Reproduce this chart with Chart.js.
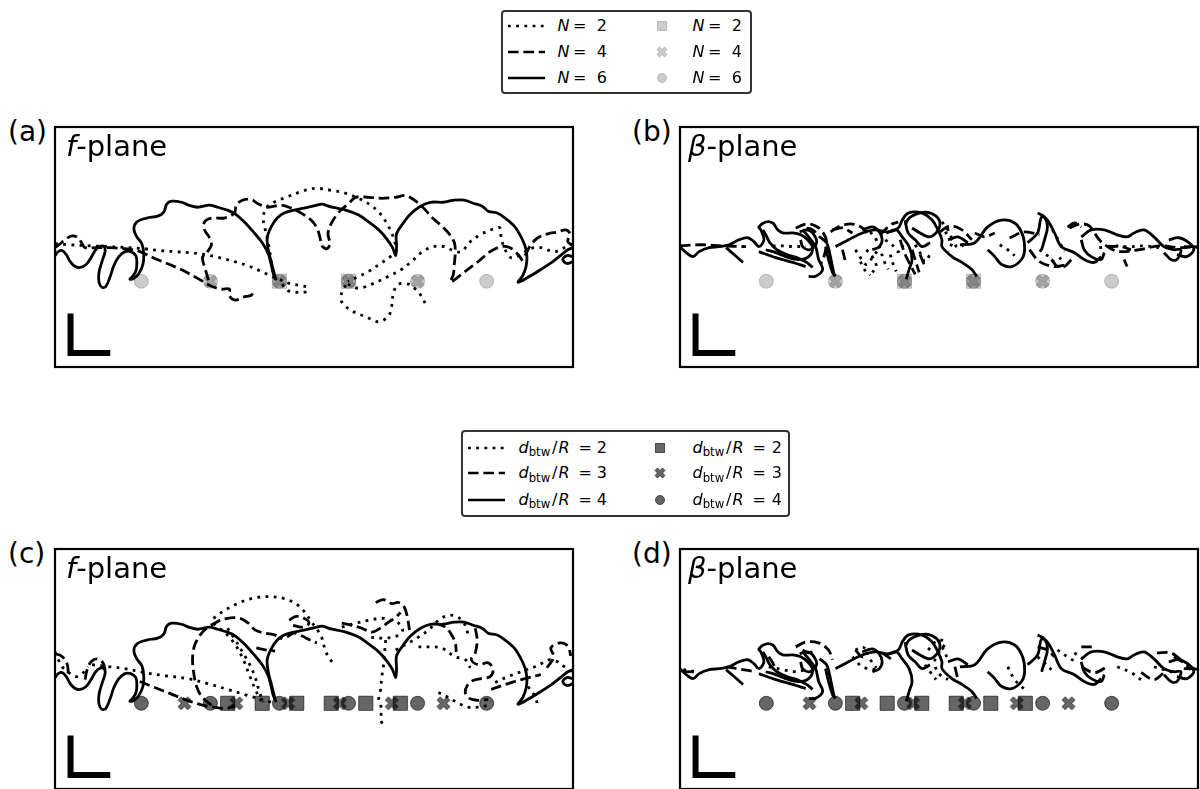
<!DOCTYPE html>
<html>
<head>
<meta charset="utf-8">
<script src="https://cdn.jsdelivr.net/npm/chart.js@4/dist/chart.umd.min.js"></script>
<style>
  html, body { margin: 0; padding: 0; background: #fff; }
  body { width: 1200px; height: 789px; overflow: hidden; position: relative;
         font-family: "DejaVu Sans", sans-serif; color: #000; }
  canvas { position: absolute; }
  .plabel { position: absolute; font-size: 28px; line-height: 28px; white-space: nowrap; }
  .ptitle { position: absolute; font-size: 29px; line-height: 29px; white-space: nowrap; }
  .box { position: absolute; border: 2px solid #333; border-radius: 4px; box-sizing: border-box; background: #fff; }
  .lt { position: absolute; font-size: 16px; line-height: 16px; white-space: nowrap; }
  .sub { font-size: 11.7px; position: relative; top: 3.5px; }
  svg.key { position: absolute; overflow: visible; }
</style>
</head>
<body>

<!-- legends -->
<div class="box" style="left:501px;top:10px;width:251px;height:84px;"></div>
<div class="box" style="left:461px;top:430px;width:329px;height:87px;"></div>

<!-- panel labels -->
<div class="plabel" style="left:8px;top:118px;">(a)</div>
<div class="plabel" style="left:632px;top:118px;">(b)</div>
<div class="plabel" style="left:8px;top:540px;">(c)</div>
<div class="plabel" style="left:632px;top:540px;">(d)</div>

<canvas id="panelA" width="540" height="262" style="left:44px;top:116px;"></canvas>
<canvas id="panelB" width="540" height="262" style="left:669px;top:116px;"></canvas>
<canvas id="panelC" width="540" height="262" style="left:44px;top:538px;"></canvas>
<canvas id="panelD" width="540" height="262" style="left:669px;top:538px;"></canvas>

<div class="ptitle" style="left:66px;top:132px;"><i>f</i>-plane</div>
<div class="ptitle" style="left:688px;top:132px;"><i>β</i>-plane</div>
<div class="ptitle" style="left:66px;top:554px;"><i>f</i>-plane</div>
<div class="ptitle" style="left:688px;top:554px;"><i>β</i>-plane</div>

<div id="legendTop"></div>
<div id="legendBottom"></div>

<script>
// ---------------------------------------------------------------------------
// Vortex tracks, in units of the vortex radius R (x along the row, y across).
// Each series is a list of track pieces; each piece is a list of [x, y].
// ---------------------------------------------------------------------------

// f-plane, N = 6 (inter-vortex distance 4R) – also the d_btw/R = 4 case
const fPlaneSolid = [
  [[-15.0,1.50],[-14.81,1.73],[-14.58,1.79],[-14.35,1.56],[-14.12,1.15],[-13.83,0.86],[-13.54,0.81],[-13.20,0.98],
   [-12.91,1.38],[-12.68,1.79],[-12.45,2.02],[-12.16,2.02],[-12.10,1.73],[-12.28,1.15],[-12.45,0.52],[-12.45,-0.06],
   [-12.28,-0.35],[-12.05,-0.29],[-11.82,0.23],[-11.59,0.92],[-11.30,1.44],[-10.95,1.73],[-10.61,1.73],[-10.32,1.50],
   [-10.26,1.04],[-10.32,0.58],[-10.55,0.23],[-10.66,0.12],[-10.43,0.17],[-10.14,0.46],[-9.91,0.98],[-9.86,1.61],
   [-9.97,2.19],[-10.26,2.59],[-10.43,3.05],[-10.26,3.46],[-9.68,3.69],[-9.05,3.80],[-8.70,4.03],[-8.53,4.50],
   [-8.24,4.67],[-7.67,4.61],[-7.26,4.44],[-6.74,4.32],[-6.05,4.44],[-5.59,4.32],[-5.01,4.15],[-4.55,3.92],
   [-4.03,3.46],[-3.46,2.82],[-3.00,2.25],[-2.65,1.61],[-2.48,0.98],[-2.36,0.46],[-2.19,0.06]],
  [[-2.25,0.23],[-2.48,1.15],[-2.65,1.84],[-2.71,2.54],[-2.48,3.17],[-2.13,3.69],[-1.73,3.98],[-1.15,4.15],
   [-0.58,4.27],[0.17,4.44],[0.46,4.50],[1.04,4.32],[1.84,4.15],[2.59,3.86],[3.17,3.46],[3.75,3.00],
   [4.21,2.48],[4.55,1.96],[4.73,1.50],[4.78,2.02],[4.78,2.77],[5.13,3.34],[5.59,3.92],[6.17,4.38],
   [6.74,4.61],[7.49,4.61],[8.13,4.73],[8.70,4.73],[9.22,4.55],[9.74,4.38],[10.09,4.09],[10.61,3.98],
   [11.07,3.69],[11.59,3.23],[11.93,2.71],[12.22,2.07],[12.33,1.44],[12.28,0.86],[12.10,0.35],[11.82,-0.06],
   [12.39,0.23],[13.14,0.69],[13.83,1.15],[14.41,1.61],[14.70,1.84],[15.0,1.96]],
  [[15.0,1.44],[14.64,1.50],[14.41,1.27],[14.64,1.04],[15.0,1.15]]
];

// f-plane, N = 4
const fPlaneN4 = [
  [[-15.0,1.96],[-14.70,2.19],[-14.35,2.48],[-14.01,2.65],[-13.66,2.54],[-13.43,2.19],[-13.26,1.96],[-12.68,1.96],
   [-11.82,1.96],[-10.95,1.90],[-10.09,1.73],[-9.22,1.33],[-8.36,0.98],[-7.49,0.58],[-6.74,0.17],[-5.94,-0.29],
   [-5.36,-0.46],[-4.90,-0.46],[-4.90,-0.86],[-4.55,-1.10],[-4.09,-0.92],[-3.63,-0.81],[-3.52,-0.58]],
  [[-6.11,0.06],[-6.34,0.86],[-6.46,1.38],[-6.17,1.73],[-5.94,2.13],[-6.05,2.54],[-6.34,3.00],[-6.34,3.46],
   [-5.94,3.69],[-5.19,3.69],[-4.61,3.98],[-4.50,4.44],[-4.15,4.73],[-3.63,4.78],[-3.29,4.55],[-2.71,4.32],
   [-1.90,4.44],[-1.33,4.27],[-0.75,3.98],[-0.17,3.57],[0.17,3.11],[0.35,2.54],[0.46,2.07],[0.75,1.90],
   [0.92,2.19],[0.81,2.77],[0.98,3.34],[1.44,4.03],[2.02,4.55],[2.42,4.90],[3.17,4.90],[3.92,4.84],
   [4.73,4.90],[5.30,5.01],[5.65,4.84],[6.05,4.55],[6.46,4.15],[6.80,3.75],[7.20,3.40],[7.78,2.82],
   [8.13,2.25],[8.18,1.67],[8.13,1.04],[8.07,0.40],[7.90,-0.06],[8.76,0.58],[9.51,1.15],[10.20,1.73],
   [10.84,2.02],[11.35,1.96],[11.82,1.56],[12.10,1.15]],
  [[12.22,1.50],[12.56,2.13],[12.97,2.54],[13.54,2.77],[14.12,2.88],[14.58,3.00],[14.81,2.77],[14.70,2.31],[15.0,2.07]]
];

// f-plane, N = 2
const fPlaneN2 = [
  [[-15.0,2.19],[-14.12,2.13],[-12.97,2.07],[-11.82,2.02],[-10.66,1.96],[-9.80,1.90],[-8.93,1.79],[-8.07,1.73],
   [-7.20,1.67],[-6.34,1.56],[-5.48,1.38],[-4.61,1.15],[-3.86,0.92],[-3.17,0.63],[-2.59,0.35],[-2.02,0.12],
   [-1.44,-0.12],[-0.86,-0.23],[-0.29,-0.35]],
  [[-1.84,-0.17],[-1.56,-0.52],[-1.10,-0.63],[-0.52,-0.63],[-0.23,-0.52]],
  [[-2.25,0.12],[-2.42,0.81],[-2.54,1.56],[-2.65,2.25],[-2.82,3.00],[-2.94,3.69],[-2.77,4.27],[-2.31,4.61],
   [-1.61,4.90],[-0.86,5.19],[0.06,5.42],[1.04,5.30],[1.84,5.13],[2.59,4.84],[3.29,4.44],[3.80,3.98],
   [4.21,3.40],[4.50,2.82],[4.67,2.31],[4.78,1.84],[4.50,1.50],[3.86,1.04],[3.17,0.58],[2.48,0.23],[1.96,0.00]],
  [[1.96,-0.17],[2.59,-0.40],[3.46,-0.12],[4.32,0.29],[5.07,0.69],[5.71,1.21],[6.28,1.73],[6.92,2.02],
   [7.55,2.02],[8.07,1.79],[8.53,1.73],[9.05,2.31],[9.63,2.71],[10.37,3.05],[10.78,3.11],[10.84,2.54],
   [11.07,1.84],[11.41,1.38],[11.99,1.56],[12.51,1.90],[13.14,1.96],[13.95,1.73],[14.70,2.07],[15.0,2.19]],
  [[1.84,-0.23],[1.61,-0.63],[1.61,-1.21],[2.19,-1.73],[3.00,-2.07],[3.75,-2.36],[4.32,-2.02],[4.50,-1.44],
   [4.61,-0.63],[4.90,-0.17],[5.48,-0.17],[5.88,-0.46],[6.22,-0.86],[6.51,-1.44]]
];

// f-plane, N = 6, d_btw/R = 3
const fPlaneD3 = [
  [[-15.0,2.88],[-14.64,2.77],[-14.35,2.42],[-14.24,1.96],[-14.29,1.50]],
  [[-13.26,1.38],[-13.14,1.96],[-12.91,2.42],[-12.56,2.59],[-12.22,2.36],[-12.10,1.96]],
  [[-10.09,1.27],[-9.22,0.92],[-8.36,0.58],[-7.49,0.23],[-6.63,-0.06],[-5.76,-0.23],[-5.01,-0.29],[-4.61,-0.12]],
  [[-5.94,-0.12],[-6.51,0.40],[-6.80,0.98],[-6.97,1.79],[-7.03,2.71],[-6.86,3.52],[-6.34,4.27],[-5.65,4.73],
   [-5.01,4.96],[-4.32,4.96],[-3.80,4.67],[-3.40,4.27],[-2.82,4.09],[-2.25,3.98],[-1.84,3.75]],
  [[-3.34,3.23],[-2.82,3.11],[-2.25,3.05]],
  [[-1.56,3.86],[-1.15,4.09],[-0.69,3.92],[-0.23,3.69],[0.17,3.52]],
  [[-1.44,4.84],[-1.04,5.07],[-0.58,4.96],[-0.29,4.67],[-0.69,4.44],[-1.21,4.55]],
  [[1.61,4.67],[2.19,4.55],[2.77,4.38],[3.34,4.15],[3.92,4.44],[4.32,4.73],[4.73,5.01],[5.01,5.30]],
  [[3.57,5.88],[4.03,6.05],[4.50,5.82],[4.90,5.88],[5.24,5.59],[5.42,4.96],[5.53,4.27]],
  [[7.03,4.67],[7.61,4.44],[7.95,4.03],[8.18,3.52],[8.24,3.00]],
  [[9.34,4.38],[9.45,3.69],[9.34,2.94],[9.11,2.54],[9.51,2.25],[10.09,2.36],[10.37,1.96],[10.20,1.56],
   [9.68,1.44],[9.22,1.33],[8.88,1.04],[8.76,0.63],[8.99,0.29],[9.51,0.17],[10.09,0.23]],
  [[10.26,0.81],[11.24,1.15],[12.22,1.44],[13.14,1.67]],
  [[13.49,2.07],[13.89,2.71],[13.72,3.23],[14.24,3.52],[14.70,3.34],[14.87,2.77]]
];

// f-plane, N = 6, d_btw/R = 2
const fPlaneD2 = [
  [[-15.0,3.00],[-14.81,2.54],[-14.53,2.07],[-14.12,1.73],[-13.72,1.56],[-13.31,1.84],[-13.08,2.13]],
  [[-12.85,2.25],[-11.82,2.13],[-10.95,2.02],[-9.80,1.79],[-8.65,1.61],[-7.32,1.44],[-6.17,1.15],[-5.01,0.81],
   [-3.86,0.46],[-3.05,0.23],[-2.48,0.06]],
  [[-3.05,0.12],[-3.40,0.81],[-3.75,1.67],[-4.09,2.54],[-4.55,3.40],[-5.13,4.09],[-5.71,4.55],[-5.88,4.84],
   [-5.36,5.30],[-4.55,5.76],[-3.63,6.11],[-2.71,6.22],[-1.73,6.11],[-0.98,5.76],[-0.52,5.30],[-0.17,4.78],
   [0.17,4.32],[0.46,3.80],[0.63,3.17],[0.86,2.65],[1.10,2.36]],
  [[-5.01,4.38],[-4.55,3.69],[-4.15,3.00],[-3.75,2.31],[-3.40,1.50],[-3.17,0.69],[-2.94,0.06]],
  [[1.61,4.44],[2.42,4.67],[3.17,4.84],[3.92,4.96],[4.50,4.84],[4.90,4.67],[5.13,4.27],[4.78,3.92],[3.98,3.80],[3.17,3.86]],
  [[4.15,3.69],[4.09,2.98],[4.03,2.25],[3.92,1.50],[3.86,0.81],[3.75,0.23],[3.92,-0.35],[3.86,-0.92],[4.03,-1.33]],
  [[4.73,3.11],[5.48,3.52],[6.05,3.86],[6.63,4.27],[7.20,4.84],[7.78,5.13],[8.36,5.01],[8.76,4.55],[8.93,3.98]],
  [[6.05,3.29],[6.80,3.29],[7.38,3.23],[8.18,2.71],[8.76,2.54],[9.05,2.07]],
  [[7.20,0.63],[7.78,0.35],[8.36,0.00],[8.93,-0.23],[9.51,-0.23],[10.09,-0.12]],
  [[10.49,1.21],[11.24,1.56],[11.99,1.84],[12.80,2.13],[13.26,2.36],[13.66,2.54],[14.12,2.42],[14.58,2.07],[15.0,1.84]],
  [[12.39,0.98],[12.80,0.40],[12.97,-0.17]]
];

// beta-plane, N = 6 (inter-vortex distance 4R) – also the d_btw/R = 4 case
const betaPlaneSolid = [
  [[-15.0,2.02],[-14.64,1.67],[-14.24,1.44],[-13.89,1.73],[-13.31,1.96],[-12.74,2.02],[-12.16,2.13],[-11.59,2.42],
   [-11.07,2.54],[-10.72,2.31],[-10.43,2.02],[-10.14,2.42],[-10.32,3.00],[-10.43,3.17],[-10.03,3.46],[-9.63,3.40],
   [-9.34,3.00],[-9.05,2.82],[-8.47,2.82],[-8.01,2.71],[-7.61,2.42],[-7.32,1.96],[-7.55,1.44],[-8.13,1.27],
   [-8.88,1.44],[-9.45,1.67],[-10.03,1.84]],
  [[-12.33,1.96],[-11.87,1.56],[-11.35,1.10]],
  [[-10.43,1.73],[-9.45,1.38],[-8.47,1.10],[-7.72,0.86]],
  [[-10.20,3.00],[-9.97,2.59],[-9.80,2.25],[-9.39,1.84],[-8.82,1.56],[-8.24,1.38],[-7.67,1.10],[-7.32,0.81]],
  [[-8.07,2.88],[-7.67,3.00],[-7.32,2.82],[-7.09,2.25],[-7.49,1.84],[-7.90,2.02],[-8.01,2.42]],
  [[-7.90,3.00],[-7.55,2.59],[-7.15,2.02],[-6.97,1.27],[-6.74,0.69],[-7.15,0.29],[-7.55,0.29]],
  [[-6.92,2.59],[-6.51,2.25],[-6.34,1.67],[-6.17,0.86],[-6.05,0.29]],
  [[-6.57,2.02],[-6.40,1.27],[-6.17,0.52],[-5.99,0.29]],
  [[-5.99,2.02],[-5.24,2.42],[-4.44,2.82],[-3.69,3.00],[-2.94,2.88],[-2.36,3.11],[-2.13,3.57],[-1.79,3.98],
   [-0.98,3.98],[-0.40,3.57],[-0.06,3.00],[0.17,2.42],[0.17,2.02],[0.75,1.44],[1.33,1.10],[1.90,0.69],[2.19,0.29]],
  [[-4.44,3.00],[-3.86,3.17],[-3.46,2.88],[-3.29,2.42],[-3.46,2.02],[-3.86,1.84]],
  [[-3.05,2.82],[-2.48,3.00],[-2.13,2.59],[-1.73,2.02],[-1.56,1.27],[-1.73,0.69],[-1.90,0.12]],
  [[-1.96,3.29],[-1.73,3.69],[-1.33,3.92],[-0.75,4.03],[-0.17,3.80],[0.06,3.34],[-0.17,2.82],[-0.58,2.59],[-1.10,2.82],[-1.56,3.11]],
  [[-1.96,3.57],[-1.79,2.82],[-1.38,2.42],[-0.98,2.02],[-0.52,2.25]],
  [[0.52,2.42],[1.10,2.59],[1.67,2.25]],
  [[1.21,2.13],[2.07,2.25],[2.82,3.17],[3.63,3.57],[4.38,3.40],[4.84,2.71],[4.96,1.84],[4.78,1.27],
   [4.21,0.86],[3.63,0.98],[3.23,1.44],[2.82,1.84]],
  [[5.13,2.25],[5.71,2.82],[5.94,3.75],[6.28,3.57],[6.69,2.82],[7.09,2.02],[7.84,1.67],[8.41,1.27],[8.99,1.10],[9.39,1.44]],
  [[5.71,3.98],[6.11,3.75],[6.28,3.17],[6.11,2.42],[5.94,1.84]],
  [[8.24,2.42],[8.41,1.84],[8.82,1.44],[9.39,1.27],[9.57,1.67]],
  [[8.24,2.59],[8.82,3.00],[9.57,3.00],[10.32,2.71],[10.89,2.59],[11.30,2.82],[11.87,3.00],[12.45,2.59],
   [13.03,2.02],[13.60,1.84],[14.01,1.84],[13.78,1.27],[13.43,1.27],[13.03,1.67]],
  [[13.31,2.42],[13.89,2.54],[14.47,2.25],[14.76,1.84],[14.35,1.44],[13.78,1.56]],
  [[14.18,2.02],[14.76,2.02],[15.0,1.96]]
];

// beta-plane, N = 4
const betaPlaneN4 = [
  [[-15.0,2.07],[-13.78,2.13],[-12.62,2.07],[-11.18,2.02]],
  [[-8.30,3.11],[-7.72,3.34],[-7.15,3.23],[-6.74,2.88],[-6.51,2.31],[-6.63,1.56],[-6.86,0.98]],
  [[-7.67,3.11],[-7.32,3.00],[-6.92,2.59]],
  [[-6.28,2.88],[-5.71,3.23],[-5.01,3.34],[-4.44,3.11],[-4.09,2.71]],
  [[-6.17,3.00],[-5.59,3.11],[-5.01,2.82]],
  [[-5.59,1.84],[-5.42,1.15]],
  [[-3.40,2.71],[-2.82,3.29],[-2.36,3.46]],
  [[-2.25,2.42],[-1.96,1.56],[-1.67,0.98],[-1.38,0.40]],
  [[-1.56,1.84],[-1.33,1.10],[-1.15,0.52]],
  [[-1.10,1.56],[-0.86,0.98]],
  [[0.06,2.88],[0.63,3.23],[1.33,3.00],[1.90,2.42]],
  [[2.07,2.82],[2.65,2.59],[3.23,2.82]],
  [[4.09,2.54],[4.96,2.88],[5.82,2.71]],
  [[7.44,3.17],[7.84,3.40],[8.24,3.17]],
  [[7.55,3.11],[8.13,3.34],[8.70,3.23],[9.28,2.42],[9.86,1.96],[10.43,1.73],[11.59,1.84],[12.74,2.07],[13.89,1.96],[15.0,2.02]],
  [[5.24,1.84],[5.82,1.15],[6.69,0.86],[7.44,0.98]],
  [[6.51,1.27],[6.86,0.86],[7.26,0.86],[7.67,1.27]],
  [[9.74,2.02],[10.55,2.02],[11.12,1.84]],
  [[10.72,1.27],[10.89,0.86]]
];

// beta-plane, N = 2
const betaPlaneN2 = [
  [[-9.63,2.07],[-9.05,2.07],[-8.30,2.02],[-7.72,2.07]],
  [[-4.84,1.84],[-4.55,1.38],[-4.21,0.98],[-3.86,1.38],[-3.52,1.84]],
  [[-4.21,1.84],[-3.86,1.44],[-3.63,0.86],[-3.86,0.52]],
  [[-4.55,1.15],[-4.32,0.69],[-3.98,0.35]],
  [[-3.11,2.42],[-2.71,2.13],[-2.36,1.73],[-2.07,2.13]],
  [[-2.82,1.56],[-2.65,0.98],[-2.48,0.58]],
  [[-3.98,2.88],[-3.63,2.42],[-3.40,1.84],[-3.17,1.15],[-2.94,0.69]],
  [[-1.38,2.13],[-1.10,1.67],[-0.81,1.15],[-0.52,1.56]],
  [[0.17,3.46],[0.52,3.00],[0.75,2.31],[0.52,1.73]],
  [[0.35,2.88],[0.75,2.42],[1.10,1.96],[1.50,2.19]],
  [[3.52,2.13],[3.98,1.84],[4.38,1.50]],
  [[5.82,1.84],[6.28,1.50],[6.69,1.15],[7.09,1.38]],
  [[6.57,3.00],[6.97,2.31],[7.26,1.73]],
  [[9.28,1.96],[10.14,2.07],[11.01,2.02],[11.87,2.07],[12.74,1.96]]
];

// beta-plane, N = 6, d_btw/R = 3
const betaPlaneD3 = [
  [[-14.81,1.84],[-14.06,1.84]],
  [[-12.33,2.13],[-11.35,1.96],[-10.61,1.84]],
  [[-8.30,3.29],[-7.72,3.57],[-6.97,3.52],[-6.40,3.11],[-6.17,2.54]],
  [[-7.90,3.11],[-7.55,2.94],[-7.15,3.11]],
  [[-9.86,2.71],[-9.63,2.36],[-9.45,1.96]],
  [[-4.84,3.11],[-4.44,2.71],[-4.09,2.94]],
  [[-3.29,2.94],[-2.71,2.54]],
  [[0.92,2.13],[1.10,1.38]],
  [[5.71,3.29],[6.28,3.11],[6.69,2.71]],
  [[8.24,3.29],[8.99,3.29]],
  [[8.24,2.13],[8.99,1.79],[9.74,2.13]],
  [[11.70,1.79],[12.45,1.38],[13.03,1.79]],
  [[12.62,2.94],[13.43,2.94],[14.01,2.54]],
  [[13.60,2.71],[14.18,2.36],[14.58,1.96]]
];

// beta-plane, N = 6, d_btw/R = 2
const betaPlaneD2 = [
  [[-14.81,1.96],[-14.06,1.84]],
  [[-9.86,2.13],[-9.05,1.96],[-8.30,1.84],[-7.72,1.96]],
  [[-4.84,3.11],[-4.44,3.29],[-4.09,3.00]],
  [[-5.01,2.71],[-4.44,2.13],[-3.69,1.96]],
  [[-3.98,2.54],[-3.63,2.07]],
  [[-0.63,3.11],[-0.06,3.69],[0.35,3.52],[-0.23,2.54],[-0.06,1.79],[0.52,1.38]],
  [[-0.06,3.69],[0.17,3.29],[0.35,2.94],[0.52,2.54]],
  [[-0.81,2.25],[-0.52,1.84],[-0.17,1.38]],
  [[3.98,2.13],[4.38,1.38],[4.78,0.98],[5.13,0.63]],
  [[5.71,2.71],[6.11,2.36],[6.51,1.96]],
  [[6.86,3.11],[7.44,2.71],[8.01,2.36]],
  [[7.84,2.94],[8.41,2.54]],
  [[10.32,2.13],[11.12,1.79],[11.70,1.38]],
  [[12.45,2.13],[13.03,1.96],[13.60,1.79]]
];

// Initial vortex positions (x / R, all on y = 0)
const startN2 = [-2, 2];
const startN4 = [-6, -2, 2, 6];
const startN6 = [-10, -6, -2, 2, 6, 10];
const startD2 = [-5, -3, -1, 1, 3, 5];
const startD3 = [-7.5, -4.5, -1.5, 1.5, 4.5, 7.5];
const startD4 = [-10, -6, -2, 2, 6, 10];

// Length-scale bar (corner position and arm length, in R)
const scaleBarCorner = [-14.1, -4.18];
const scaleBarLength = 2.3;

// Legend entries
const topLegendLabels = ['2', '4', '6'];
const bottomLegendLabels = ['2', '3', '4'];

// ---------------------------------------------------------------------------
const DOT = [2.8, 5.4];
const DASH = [10.6, 4.8];
const SOLID = [];
const LIGHT = 'rgba(0,0,0,0.2)';
const DARK = 'rgba(0,0,0,0.6)';

function crossImage(size, fill) {
  const c = document.createElement('canvas');
  c.width = c.height = size + 2;
  const g = c.getContext('2d');
  const pts = [[0.25,0],[0.5,0.25],[0.75,0],[1,0.25],[0.75,0.5],[1,0.75],[0.75,1],[0.5,0.75],[0.25,1],[0,0.75],[0.25,0.5],[0,0.25]];
  g.beginPath();
  pts.forEach(([u, v], i) => {
    const X = 1 + u * size, Y = 1 + v * size;
    i ? g.lineTo(X, Y) : g.moveTo(X, Y);
  });
  g.closePath();
  g.fillStyle = fill; g.fill();
  g.lineWidth = 1; g.strokeStyle = fill; g.stroke();
  return c;
}

function trackSets(pieces, dash) {
  return pieces.map(piece => ({
    data: piece.map(([x, y]) => ({ x, y })),
    showLine: true, borderColor: '#000', borderWidth: 2.8, borderDash: dash,
    borderCapStyle: 'butt', borderJoinStyle: 'round', tension: 0.35,
    pointRadius: 0, pointHoverRadius: 0, clip: 0, order: 2
  }));
}

function startSet(xs, style, radius, fill) {
  return {
    data: xs.map(x => ({ x, y: 0 })), showLine: false,
    pointStyle: style, pointRadius: radius, pointHoverRadius: radius,
    pointBackgroundColor: fill, pointBorderColor: fill, pointBorderWidth: 1, order: 0
  };
}

function scaleBarSet() {
  const [cx, cy] = scaleBarCorner;
  return {
    data: [{ x: cx, y: cy + scaleBarLength }, { x: cx, y: cy }, { x: cx + scaleBarLength, y: cy }],
    showLine: true, borderColor: '#000', borderWidth: 6, borderCapStyle: 'butt',
    borderJoinStyle: 'miter', tension: 0, pointRadius: 0, order: 1
  };
}

const framePlugin = {
  id: 'frame',
  afterDraw(chart) {
    const { ctx, chartArea: a } = chart;
    ctx.save();
    ctx.lineWidth = 2.2;
    ctx.strokeStyle = '#000';
    ctx.strokeRect(a.left, a.top, a.right - a.left, a.bottom - a.top);
    ctx.restore();
  }
};

function panel(id, lines, markers) {
  new Chart(document.getElementById(id), {
    type: 'scatter',
    data: { datasets: [...markers, scaleBarSet(), ...lines] },
    options: {
      responsive: false, animation: false, devicePixelRatio: 1, events: [],
      layout: { padding: 10 },
      scales: {
        x: { type: 'linear', min: -15, max: 15, display: false },
        y: { type: 'linear', min: -5, max: 9, display: false }
      },
      plugins: { legend: { display: false }, tooltip: { enabled: false } }
    },
    plugins: [framePlugin]
  });
}

const lightCross = crossImage(13, LIGHT);
const darkCross = crossImage(13, DARK);

const topMarkers = [
  startSet(startN2, 'rect', 10, LIGHT),
  startSet(startN4, lightCross, 7, LIGHT),
  startSet(startN6, 'circle', 7, LIGHT)
];
const bottomMarkers = [
  startSet(startD2, 'rect', 10, DARK),
  startSet(startD3, darkCross, 7, DARK),
  startSet(startD4, 'circle', 7, DARK)
];

panel('panelA', [...trackSets(fPlaneN2, DOT), ...trackSets(fPlaneN4, DASH), ...trackSets(fPlaneSolid, SOLID)], topMarkers);
panel('panelB', [...trackSets(betaPlaneN2, DOT), ...trackSets(betaPlaneN4, DASH), ...trackSets(betaPlaneSolid, SOLID)], topMarkers);
panel('panelC', [...trackSets(fPlaneD2, DOT), ...trackSets(fPlaneD3, DASH), ...trackSets(fPlaneSolid, SOLID)], bottomMarkers);
panel('panelD', [...trackSets(betaPlaneD2, DOT), ...trackSets(betaPlaneD3, DASH), ...trackSets(betaPlaneSolid, SOLID)], bottomMarkers);

// ---------------------------------------------------------------------------
// Legends
function lineKey(left, cy, dash) {
  const d = dash.length ? `stroke-dasharray="${dash.join(' ')}"` : '';
  return `<svg class="key" style="left:${left}px;top:${cy - 5}px" width="37" height="10">
    <line x1="0" y1="5" x2="37" y2="5" stroke="#000" stroke-width="2.7" ${d}/></svg>`;
}
function markerKey(cx, cy, shape, fill) {
  const s = 10;
  let body;
  if (shape === 'rect') body = `<rect x="0.5" y="0.5" width="${s - 1}" height="${s - 1}" fill="${fill}" stroke="${fill}" stroke-width="1"/>`;
  else if (shape === 'circle') body = `<circle cx="${s / 2}" cy="${s / 2}" r="${s / 2 - 0.5}" fill="${fill}" stroke="${fill}" stroke-width="1"/>`;
  else {
    const pts = [[0.25,0],[0.5,0.25],[0.75,0],[1,0.25],[0.75,0.5],[1,0.75],[0.75,1],[0.5,0.75],[0.25,1],[0,0.75],[0.25,0.5],[0,0.25]]
      .map(([u, v]) => `${u * s},${v * s}`).join(' ');
    body = `<polygon points="${pts}" fill="${fill}" stroke="${fill}" stroke-width="1"/>`;
  }
  return `<svg class="key" style="left:${cx - s / 2}px;top:${cy - s / 2}px" width="${s}" height="${s}">${body}</svg>`;
}
function text(left, baseline, html) {
  return `<div class="lt" style="left:${left}px;top:${baseline - 13.5}px">${html}</div>`;
}

(function buildLegends() {
  const dashes = [DOT, DASH, SOLID];
  const shapes = ['rect', 'cross', 'circle'];
  let h = '';
  const topRows = [26.3, 51.8, 78.2];
  topLegendLabels.forEach((lab, i) => {
    const cy = topRows[i], base = cy + 5.6;
    h += lineKey(508, cy, dashes[i]);
    h += text(557.5, base, '<i>N</i>') + text(573, base, '=') + text(596.7, base, lab);
    h += markerKey(662, cy, shapes[i], LIGHT);
    h += text(692.5, base, '<i>N</i>') + text(708, base, '=') + text(731.7, base, lab);
  });
  document.getElementById('legendTop').innerHTML = h;

  let g = '';
  const botRows = [447.8, 473.3, 499.6];
  const dSub = '<i>d</i><span class="sub">btw</span>';
  bottomLegendLabels.forEach((lab, i) => {
    const cy = botRows[i], base = cy + 5.6;
    g += lineKey(468, cy, dashes[i]);
    g += text(518.5, base, dSub) + text(552, base, '/') + text(558.5, base, '<i>R</i>')
       + text(578.5, base, '=') + text(596.7, base, lab);
    g += markerKey(660, cy, shapes[i], DARK);
    g += text(692.5, base, dSub) + text(726, base, '/') + text(732.5, base, '<i>R</i>')
       + text(752.5, base, '=') + text(771.7, base, lab);
  });
  document.getElementById('legendBottom').innerHTML = g;
})();
</script>
</body>
</html>
